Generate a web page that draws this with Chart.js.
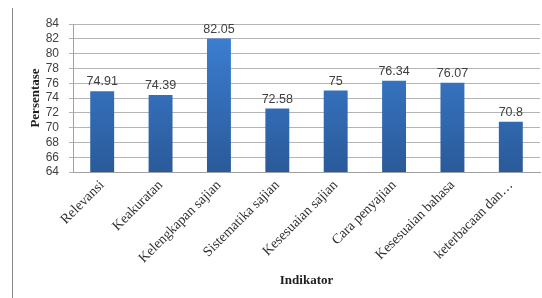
<!DOCTYPE html>
<html>
<head>
<meta charset="utf-8">
<script src="https://cdn.jsdelivr.net/npm/chart.js@4.4.1/dist/chart.umd.min.js"></script>
<style>
  html, body { margin: 0; padding: 0; background: #fff; }
  #wrap { position: relative; width: 542px; height: 298px; }
</style>
</head>
<body>
<div id="wrap"><canvas id="chart" width="542" height="298"></canvas></div>
<script>
// data
const categories = ['Relevansi', 'Keakuratan', 'Kelengkapan sajian', 'Sistematika sajian',
    'Kesesuaian sajian', 'Cara penyajian', 'Kesesuaian bahasa', 'keterbacaan dan…']
const values = [74.91, 74.39, 82.05, 72.58, 75, 76.34, 76.07, 70.8]
const valueLabels = ['74.91', '74.39', '82.05', '72.58', '75', '76.34', '76.07', '70.8']
const yMin = 64, yMax = 84, yStep = 2

// frame line on the left edge + value labels above bars
const extras = {
    id: 'extras',
    beforeDraw(chart) {
        const ctx = chart.ctx
        ctx.save()
        ctx.strokeStyle = '#8a8a8a'
        ctx.lineWidth = 1
        ctx.beginPath()
        ctx.moveTo(12.5, 8)
        ctx.lineTo(12.5, 298)
        ctx.stroke()
        ctx.restore()
    },
    afterDatasetsDraw(chart) {
        const ctx = chart.ctx
        const meta = chart.getDatasetMeta(0)
        ctx.save()
        ctx.font = '12.5px "Liberation Sans", Arial, sans-serif'
        ctx.fillStyle = '#404040'
        ctx.textAlign = 'center'
        ctx.textBaseline = 'bottom'
        meta.data.forEach((bar, i) => {
            ctx.fillText(valueLabels[i], bar.x, bar.y - 3)
        })
        ctx.restore()
    }
}

const ctx = document.getElementById('chart').getContext('2d')
new Chart(ctx, {
    type: 'bar',
    data: {
        labels: categories,
        datasets: [{
            data: values,
            backgroundColor: (c) => {
                const area = c.chart.chartArea
                if (!area) return '#3373c4'
                const g = c.chart.ctx.createLinearGradient(0, area.top, 0, area.bottom)
                g.addColorStop(0, '#3d81d6')
                g.addColorStop(1, '#2a5a99')
                return g
            },
            borderWidth: 0,
            categoryPercentage: 1,
            barPercentage: 0.41,
        }]
    },
    options: {
        responsive: false,
        animation: false,
        layout: { padding: { top: 24, right: 2, left: 24, bottom: 0 } },
        plugins: { legend: { display: false }, tooltip: { enabled: false } },
        scales: {
            x: {
                afterFit(scale) { scale.height = 126 },
                grid: { display: false, drawTicks: false },
                border: { color: '#a0a0a0' },
                ticks: {
                    maxRotation: 45, minRotation: 45,
                    autoSkip: false,
                    padding: 5,
                    color: '#303030',
                    font: { family: '"Liberation Serif", "Times New Roman", serif', size: 14 }
                },
                title: {
                    display: true, text: 'Indikator', color: '#202020',
                    padding: { top: 0, bottom: 10 },
                    font: { family: '"Liberation Serif", "Times New Roman", serif', size: 13, weight: 'bold' }
                }
            },
            y: {
                min: yMin, max: yMax,
                afterFit(scale) { scale.width = 49 },
                grid: { color: '#b4b4b4', tickLength: 4 },
                border: { color: '#a0a0a0' },
                ticks: {
                    stepSize: yStep,
                    autoSkip: false,
                    padding: 10,
                    color: '#404040',
                    font: { family: '"Liberation Sans", Arial, sans-serif', size: 12 }
                },
                title: {
                    display: true, text: 'Persentase', color: '#202020',
                    padding: { top: 4, bottom: 0 },
                    font: { family: '"Liberation Serif", "Times New Roman", serif', size: 13, weight: 'bold' }
                }
            }
        }
    },
    plugins: [extras]
})
</script>
</body>
</html>
